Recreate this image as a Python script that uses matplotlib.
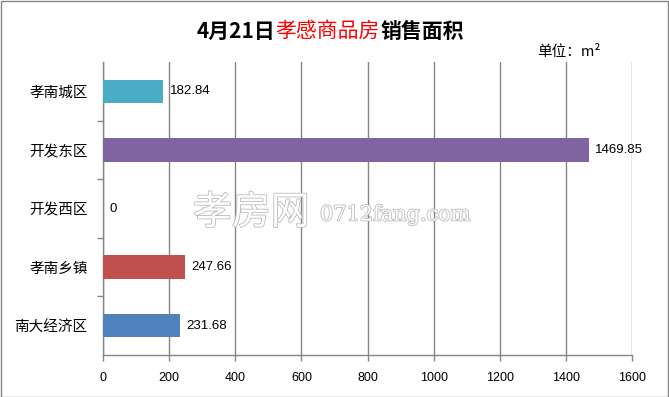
import matplotlib
matplotlib.use("Agg")
import matplotlib.pyplot as plt
import matplotlib.patheffects as pe

plt.rcParams['font.family'] = ['Noto Sans CJK SC', 'DejaVu Sans']

categories = ["孝南城区", "开发东区", "开发西区", "孝南乡镇", "南大经济区"]
values = [182.84, 1469.85, 0, 247.66, 231.68]
colors = ["#4BACC6", "#8064A2", "#8064A2", "#C0504D", "#4F81BD"]
label_texts = ["182.84", "1469.85", "0", "247.66", "231.68"]
xticks = [0, 200, 400, 600, 800, 1000, 1200, 1400, 1600]

W, H = 669, 397
fig = plt.figure(figsize=(W / 100, H / 100), dpi=100)
ax = fig.add_axes([103 / W, 1 - 355 / H, (632 - 103) / W, (355 - 62) / H])

n = len(categories)
ypos = list(range(n))[::-1]  # first category at top
ax.barh(ypos, values, height=0.4, color=colors, zorder=3)
ax.set_ylim(-0.5, n - 0.5)
ax.set_xlim(0, 1600)

for y, v, t in zip(ypos, values, label_texts):
    ax.annotate(t, (v, y), xytext=(4.5, 0), textcoords="offset points",
                ha="left", va="center", fontsize=9.5, family=["Liberation Sans"],
                zorder=4)

ax.set_xticks(xticks)
ax.set_xticklabels([str(x) for x in xticks], fontsize=9, family=["Liberation Sans"])
ax.set_yticks(ypos)
ax.set_yticklabels(categories, fontsize=10.5)
ax.tick_params(axis="y", length=0, pad=11)
ax.set_yticks([i - 0.5 for i in range(1, n)], minor=True)
ax.tick_params(axis="y", which="minor", length=4, color="#868686", width=1)
ax.tick_params(axis="x", length=4, color="#868686", width=1, pad=8)

ax.grid(axis="x", color="#868686", linewidth=1, zorder=0)
for s in ["top", "right"]:
    ax.spines[s].set_visible(False)
for s in ["left", "bottom"]:
    ax.spines[s].set_color("#868686")
    ax.spines[s].set_linewidth(1)

# Title with mixed colours
ty = 1 - 31 / H
t1 = fig.text(197 / W, ty, "4月21日", fontsize=15, fontweight="bold",
              color="black", ha="left", va="center")
fig.canvas.draw()
r = fig.canvas.get_renderer()
bb = t1.get_window_extent(r)
t2 = fig.text(bb.x1 / W, ty, "孝感商品房", fontsize=15, color="#FF0000",
              ha="left", va="center")
bb2 = t2.get_window_extent(r)
fig.text(bb2.x1 / W, ty, "销售面积", fontsize=15, fontweight="bold",
         color="black", ha="left", va="center")

fig.text(537 / W, 1 - 52 / H, "单位：m²", fontsize=10.5, ha="left", va="center")

# Watermark
fig.text(193 / W, 1 - 213 / H, "孝房网", fontsize=28, color="white", ha="left",
         va="center", zorder=5,
         path_effects=[pe.withStroke(linewidth=1.2, foreground="#BBBBBB")])
fig.text(320 / W, 1 - 215 / H, "0712fang.com", fontsize=15, color="white",
         family=["DejaVu Serif"], ha="left", va="center", zorder=5,
         path_effects=[pe.withStroke(linewidth=1.2, foreground="#BBBBBB")])

# Outer border
border = plt.Rectangle((0.5 / W, 0.5 / H), 1 - 1.5 / W, 1 - 1.5 / H,
                       transform=fig.transFigure, fill=False,
                       edgecolor="#868686", linewidth=1)
fig.patches.append(border)

fig.savefig("out.png", dpi=100)
